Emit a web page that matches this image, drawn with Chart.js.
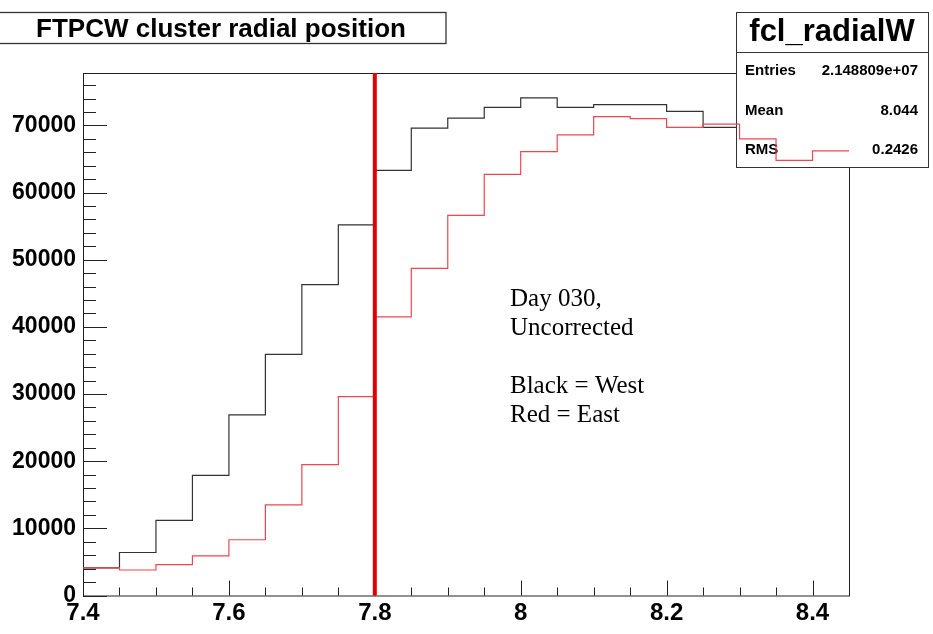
<!DOCTYPE html>
<html>
<head>
<meta charset="utf-8">
<title>FTPCW cluster radial position</title>
<script src="https://cdn.jsdelivr.net/npm/chart.js@4.4.1/dist/chart.umd.min.js"></script>
<style>
  html, body { margin: 0; padding: 0; background: #fff; }
  #wrap { width: 933px; height: 634px; position: relative; }
</style>
</head>
<body>
<div id="wrap"><canvas id="radialChart"></canvas></div>
<script>
// bin lower edges (width 0.05)
const binLow = [7.40, 7.45, 7.50, 7.55, 7.60, 7.65, 7.70, 7.75, 7.80, 7.85, 7.90,
                7.95, 8.00, 8.05, 8.10, 8.15, 8.20, 8.25, 8.30, 8.35, 8.40];
const binWidth = 0.05;

// counts per bin
const westCounts = [4100, 6400, 11200, 17900, 26900, 35900, 46300, 55200, 63300, 69600, 71100,
                    72700, 74100, 72700, 73100, 73100, 72100, 69700, 67800, 66200, 64900];
const eastCounts = [4100, 3800, 4600, 5900, 8300, 13500, 19500, 29600, 41500, 48700, 56600,
                    62700, 66100, 68600, 71300, 71000, 69700, 70200, 68000, 64800, 66200];

const xTicks = [7.4, 7.6, 7.8, 8.0, 8.2, 8.4];
const yTicks = [0, 10000, 20000, 30000, 40000, 50000, 60000, 70000];

const cutPosition = 7.8;

const histTitle = 'FTPCW cluster radial position';
const statsName = 'fcl_radialW';
const statsRows = [['Entries', '2.148809e+07'], ['Mean', '8.044'], ['RMS', '0.2426']];
const noteLines = ['Day 030,', 'Uncorrected', '', 'Black = West', 'Red = East'];

const xMin = binLow[0];
const xMax = binLow[binLow.length - 1] + binWidth;
const yMax = Math.max(...westCounts) * 1.05;

const SANS = '"Liberation Sans", Arial, Helvetica, sans-serif';
const SERIF = '"Liberation Serif", "Times New Roman", serif';

// histogram outline: one point per bin low edge plus the closing edge
function histPoints(counts) {
    const pts = binLow.map((x, i) => ({ x: x, y: counts[i] }));
    pts.push({ x: xMax, y: counts[counts.length - 1] });
    return pts;
}

function drawStatsBox(ctx) {
    const x0 = 736, y0 = 12, x1 = 928, y1 = 167;
    ctx.save();
    ctx.fillStyle = '#fff';
    ctx.fillRect(x0, y0, x1 - x0, y1 - y0);
    ctx.strokeStyle = '#333';
    ctx.lineWidth = 1;
    ctx.strokeRect(x0 + 0.5, y0 + 0.5, x1 - x0, y1 - y0);
    ctx.beginPath();
    ctx.moveTo(x0, 52.5);
    ctx.lineTo(x1, 52.5);
    ctx.stroke();

    ctx.fillStyle = '#000';
    ctx.font = 'bold 31px ' + SANS;
    ctx.textAlign = 'center';
    ctx.textBaseline = 'alphabetic';
    ctx.fillText(statsName, (x0 + x1) / 2, 41);

    ctx.font = 'bold 15px ' + SANS;
    statsRows.forEach((row, i) => {
        const yb = 75 + i * 39.5;
        ctx.textAlign = 'left';
        ctx.fillText(row[0], 745, yb);
        ctx.textAlign = 'right';
        ctx.fillText(row[1], 918, yb);
    });
    ctx.restore();
}

const frameAndTicks = {
    id: 'frameAndTicks',
    beforeDatasetsDraw(chart) {
        const { ctx, chartArea: a, scales: { x, y } } = chart;
        ctx.save();
        ctx.strokeStyle = '#222';
        ctx.lineWidth = 1;
        ctx.strokeRect(a.left + 0.5, a.top + 0.5, a.right - a.left, a.bottom - a.top);

        ctx.beginPath();
        // y axis ticks, pointing inward
        for (let v = 0; v <= yMax; v += 2000) {
            const py = Math.round(y.getPixelForValue(v)) + 0.5;
            const len = v % 10000 === 0 ? 24 : 13;
            ctx.moveTo(a.left, py);
            ctx.lineTo(a.left + len, py);
        }
        // x axis ticks
        for (let k = 0; xMin + k * binWidth <= xMax + 1e-9; k++) {
            const v = xMin + k * binWidth;
            const px = Math.round(x.getPixelForValue(v)) + 0.5;
            const major = xTicks.some(t => Math.abs(t - v) < 1e-6);
            ctx.moveTo(px, a.bottom);
            ctx.lineTo(px, a.bottom - (major ? 15 : 8));
        }
        ctx.stroke();
        ctx.restore();
    },
    afterDatasetDraw(chart, args) {
        // stats box sits over the west histogram but under the east one
        if (args.index === 0) drawStatsBox(chart.ctx);
    },
    afterDatasetsDraw(chart) {
        const { ctx, chartArea: a, scales: { x } } = chart;
        const px = x.getPixelForValue(cutPosition);
        ctx.save();
        ctx.strokeStyle = '#e00000';
        ctx.lineWidth = 4;
        ctx.beginPath();
        ctx.moveTo(px, a.top);
        ctx.lineTo(px, a.bottom);
        ctx.stroke();

        // note text
        ctx.fillStyle = '#000';
        ctx.font = '25px ' + SERIF;
        ctx.textAlign = 'left';
        ctx.textBaseline = 'alphabetic';
        noteLines.forEach((line, i) => {
            if (line) ctx.fillText(line, 510, 306 + i * 29);
        });

        // title box
        ctx.fillStyle = '#fff';
        ctx.fillRect(-2, 12, 448, 31);
        ctx.strokeStyle = '#333';
        ctx.lineWidth = 1.3;
        ctx.strokeRect(-2, 12.5, 448, 31);
        ctx.fillStyle = '#000';
        ctx.font = 'bold 26px ' + SANS;
        ctx.textAlign = 'center';
        ctx.fillText(histTitle, 221, 36.5);
        ctx.restore();
    }
};

new Chart(document.getElementById('radialChart'), {
    type: 'line',
    data: {
        datasets: [{
            label: 'West',
            data: histPoints(westCounts),
            borderColor: '#333',
            borderWidth: 1.2,
            stepped: 'before',
            pointRadius: 0,
            fill: false,
            order: 2
        }, {
            label: 'East',
            data: histPoints(eastCounts),
            borderColor: 'rgb(238, 70, 80)',
            borderWidth: 1.2,
            stepped: 'before',
            pointRadius: 0,
            fill: false,
            order: 1
        }]
    },
    options: {
        responsive: true,
        maintainAspectRatio: false,
        animation: false,
        layout: { padding: { top: 73, right: 84, left: 0, bottom: 0 } },
        plugins: {
            legend: { display: false },
            tooltip: { enabled: false }
        },
        scales: {
            x: {
                type: 'linear',
                min: xMin,
                max: xMax,
                grid: { display: false, drawTicks: false },
                border: { display: false },
                afterFit: s => { s.height = 38.5; },
                afterBuildTicks: s => { s.ticks = xTicks.map(v => ({ value: v })); },
                ticks: {
                    autoSkip: false,
                    maxRotation: 0,
                    padding: 3,
                    color: '#000',
                    font: { family: SANS, size: 24, weight: 'bold' },
                    callback: v => String(Number(v.toFixed(2)))
                }
            },
            y: {
                type: 'linear',
                min: 0,
                max: yMax,
                grid: { display: false, drawTicks: false },
                border: { display: false },
                afterFit: s => { s.width = 83; },
                afterBuildTicks: s => { s.ticks = yTicks.map(v => ({ value: v })); },
                ticks: {
                    autoSkip: false,
                    padding: 7,
                    color: '#000',
                    font: { family: SANS, size: 23, weight: 'bold' },
                    callback: v => String(v)
                }
            }
        }
    },
    plugins: [frameAndTicks]
});
</script>
</body>
</html>
